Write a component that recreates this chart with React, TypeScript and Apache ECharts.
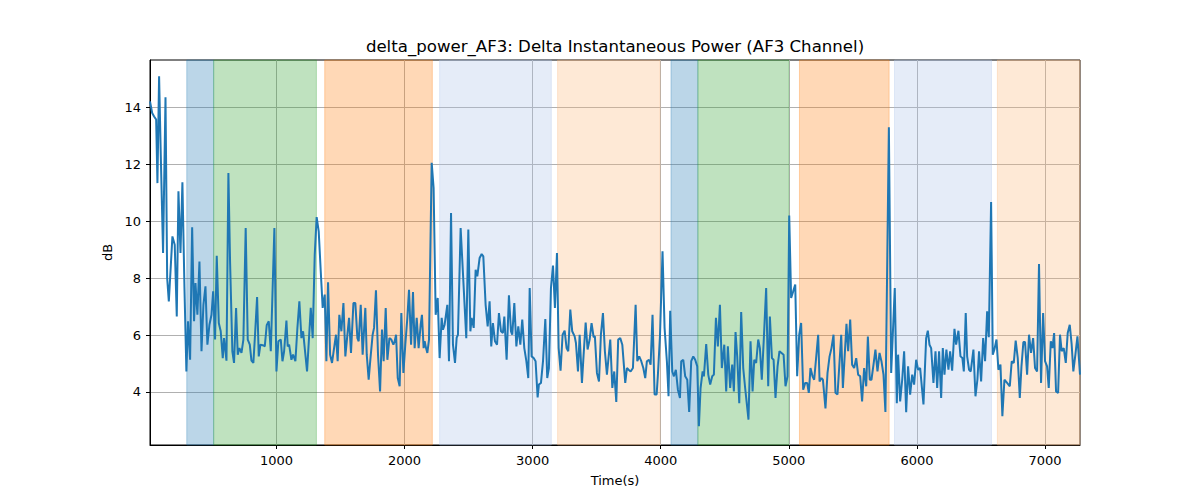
import React, { useEffect, useRef } from "react";
import * as echarts from "echarts";

const TITLE = "delta_power_AF3: Delta Instantaneous Power (AF3 Channel)";
const X_NAME = "Time(s)";
const Y_NAME = "dB";
const X_TICKS = [1000, 2000, 3000, 4000, 5000, 6000, 7000];
const Y_TICKS = [4, 6, 8, 10, 12, 14];
const X_MIN = 13;
const X_MAX = 7273;
const Y_MIN = 2.14;
const Y_MAX = 15.65;

const times = [
  13, 30, 45, 61, 71, 84, 97, 115, 134, 147, 160, 188, 206, 222, 235, 251, 266, 282, 297, 310,
  326, 342, 357, 368, 383, 399, 415, 430, 446, 461, 477, 493, 506, 521, 534, 550, 565, 581, 591, 610,
  625, 638, 656, 669, 685, 698, 711, 727, 742, 760, 776, 792, 805, 820, 833, 849, 862, 875, 901, 909,
  924, 940, 956, 984, 1000, 1015, 1034, 1047, 1060, 1078, 1088, 1099, 1117, 1130, 1148, 1164, 1179, 1195, 1208, 1239,
  1268, 1283, 1299, 1314, 1330, 1346, 1361, 1377, 1390, 1403, 1419, 1434, 1450, 1465, 1478, 1491, 1507, 1523, 1538, 1554,
  1567, 1582, 1601, 1616, 1632, 1642, 1658, 1673, 1694, 1705, 1720, 1733, 1751, 1762, 1777, 1793, 1809, 1824, 1837, 1853,
  1866, 1882, 1897, 1913, 1923, 1934, 1947, 1962, 1975, 1991, 2006, 2022, 2035, 2051, 2066, 2079, 2095, 2110, 2126, 2136,
  2149, 2157, 2168, 2178, 2191, 2212, 2227, 2243, 2259, 2274, 2290, 2300, 2313, 2334, 2347, 2363, 2378, 2394, 2407, 2417,
  2438, 2482, 2498, 2514, 2524, 2540, 2555, 2568, 2586, 2602, 2615, 2633, 2649, 2664, 2677, 2690, 2706, 2722, 2737, 2753,
  2768, 2779, 2797, 2815, 2831, 2841, 2857, 2873, 2888, 2904, 2919, 2935, 2951, 2966, 2977, 2992, 3008, 3023, 3039, 3049,
  3065, 3081, 3099, 3114, 3127, 3143, 3159, 3174, 3190, 3203, 3218, 3234, 3250, 3265, 3278, 3294, 3309, 3328, 3338, 3354,
  3367, 3385, 3398, 3414, 3429, 3445, 3460, 3476, 3486, 3502, 3518, 3533, 3549, 3564, 3580, 3606, 3622, 3637, 3653, 3668,
  3684, 3700, 3723, 3736, 3749, 3765, 3783, 3804, 3817, 3832, 3848, 3864, 3879, 3892, 3908, 3921, 3936, 3952, 3968, 3978,
  3994, 4014, 4030, 4048, 4061, 4074, 4090, 4103, 4118, 4134, 4150, 4160, 4176, 4191, 4207, 4222, 4238, 4254, 4269, 4285,
  4298, 4311, 4327, 4337, 4355, 4371, 4386, 4402, 4415, 4431, 4446, 4462, 4477, 4496, 4511, 4524, 4542, 4558, 4571, 4584,
  4597, 4613, 4628, 4644, 4659, 4685, 4701, 4717, 4730, 4745, 4761, 4774, 4789, 4805, 4823, 4839, 4852, 4868,
  4881, 4896, 4912, 4927, 4943, 4959, 4974, 4990, 5003, 5018, 5034, 5050, 5065, 5081, 5096, 5112, 5128, 5143, 5156, 5169,
  5185, 5198, 5229, 5240, 5255, 5266, 5286, 5302, 5318, 5333, 5349, 5364, 5380, 5409, 5422, 5450, 5463, 5479, 5494, 5510,
  5526, 5541, 5557, 5572, 5588, 5604, 5617, 5632, 5645, 5661, 5676, 5692, 5708, 5723, 5739, 5754, 5781, 5799, 5827, 5843,
  5853, 5869, 5885, 5900, 5916, 5931, 5947, 5963, 5978, 5994, 6009, 6025, 6051, 6072,
  6085, 6098, 6111, 6129, 6145, 6158, 6173, 6189, 6202, 6215, 6230, 6246, 6259, 6275, 6293, 6306, 6324, 6340, 6355, 6366,
  6381, 6392, 6407, 6420, 6441, 6457, 6472, 6485, 6501, 6517, 6532, 6548, 6561, 6579, 6592, 6605, 6621, 6636, 6652, 6667,
  6683, 6704, 6725, 6740, 6756, 6771, 6787, 6803, 6816, 6831, 6844, 6860, 6875, 6891, 6907, 6922, 6938, 6953, 6969, 6985,
  7000, 7016, 7029, 7045, 7058, 7071, 7086, 7102, 7117, 7130, 7146, 7162, 7177, 7193, 7208, 7221, 7237, 7253, 7273,
];

const powerDb = [
  14.2, 13.79, 13.67, 13.56, 11.33, 15.08, 12.33, 8.88, 14.34, 8.0, 7.18, 9.46, 9.17, 6.65, 11.04, 8.88, 11.36, 7.65, 4.72, 6.48,
  5.13, 9.78, 6.48, 7.82, 6.71, 8.58, 5.43, 7.06, 7.71, 5.66, 6.36, 6.71, 7.53, 5.84, 8.78, 6.42, 6.13, 5.19, 5.89, 5.1,
  11.68, 8.58, 5.43, 5.02, 6.95, 5.31, 5.54, 5.37, 5.84, 9.75, 5.84, 5.66, 5.1, 5.02, 6.01, 7.33, 5.25, 5.66, 5.63, 5.6,
  6.34, 6.48, 5.43, 9.75, 4.72, 5.78, 5.84, 5.08, 5.43, 6.51, 5.6, 5.66, 5.13, 5.31, 5.08, 6.27, 7.18, 5.89, 6.13, 4.72,
  6.95, 5.89, 8.82, 10.14, 9.64, 8.23, 6.95, 7.42, 5.08, 7.85, 5.31, 5.02, 5.54, 6.01, 5.08, 6.71, 6.13, 7.12, 5.25, 6.01,
  6.6, 5.37, 7.12, 7.12, 5.89, 5.78, 7.06, 5.31, 6.95, 5.31, 4.43, 5.13, 6.01, 6.25, 7.57, 5.31, 4.02, 6.19, 5.08, 6.95,
  5.13, 5.89, 5.84, 5.66, 5.78, 6.01, 4.49, 4.2, 6.77, 4.67, 5.66, 6.6, 7.59, 5.66, 7.51, 5.54, 6.6, 5.54, 6.36, 6.71,
  5.54, 5.78, 5.54, 5.37, 5.84, 12.04, 11.16, 6.71, 7.3, 5.19, 6.6, 6.19, 6.36, 7.06, 5.08, 10.28, 5.66, 5.02, 5.91, 6.01,
  9.75, 5.89, 9.7, 6.13, 6.6, 6.25, 8.29, 8.06, 8.7, 8.84, 8.76, 7.06, 6.3, 7.18, 5.6, 6.42, 5.78, 5.66, 6.77, 6.13,
  6.07, 6.65, 5.13, 7.39, 6.13, 6.01, 7.12, 5.6, 6.3, 5.66, 6.54, 5.54, 5.08, 4.49, 7.65, 5.25, 5.19, 5.08, 3.81, 4.26,
  4.32, 5.08, 6.56, 4.49, 4.84, 7.65, 8.44, 6.95, 8.88, 5.54, 4.75, 6.01, 6.15, 5.54, 5.43, 6.89, 6.13, 5.95, 5.72, 4.72,
  6.01, 4.32, 5.31, 6.44, 5.49, 5.84, 6.42, 5.93, 5.95, 4.67, 4.37, 6.01, 6.77, 5.43, 4.61, 5.84, 4.14, 4.72, 3.65, 5.84,
  5.89, 5.66, 4.32, 4.84, 4.78, 4.72, 4.84, 7.06, 5.08, 5.25, 5.08, 4.84, 4.49, 5.08, 5.13, 4.96, 6.71, 3.91, 3.91, 4.61,
  5.95, 8.94, 6.25, 5.08, 3.85, 6.85, 4.72, 4.55, 4.78, 4.08, 3.79, 5.08, 5.13, 4.55, 4.43, 3.3, 5.08, 5.25, 5.13, 4.9,
  2.8, 4.14, 4.72, 4.55, 5.68, 4.61, 4.26, 4.55, 4.61, 6.6, 5.6, 7.06, 4.84, 5.66, 4.02, 5.6, 4.14, 4.96, 4.02, 6.1,
  5.25, 3.61, 6.81, 4.84, 4.14, 3.03, 5.78, 4.02, 5.13, 5.02, 5.84, 5.54, 4.43, 5.89, 7.65, 4.2, 6.65, 5.19,
  5.13, 3.79, 4.9, 5.43, 5.37, 5.31, 4.2, 4.55, 10.19, 7.3, 7.53, 7.77, 4.55, 6.01, 6.42, 4.08, 4.32, 4.32, 3.97, 4.84,
  4.55, 4.43, 6.01, 4.37, 4.49, 4.43, 3.42, 4.67, 5.25, 5.54, 6.01, 3.97, 3.91, 6.01, 4.14, 6.39, 5.43, 6.54, 4.96, 4.84,
  5.19, 4.61, 4.55, 3.67, 4.84, 4.2, 5.95, 4.43, 4.43, 4.96, 5.49, 4.72, 5.37, 5.08, 4.61, 3.3, 13.29, 4.67, 7.65, 3.61,
  5.31, 3.67, 4.43, 5.43, 3.29, 4.9, 3.91, 4.61, 4.26, 5.13, 4.78, 4.84, 3.56, 5.89,
  6.15, 5.66, 5.54, 4.32, 5.43, 4.14, 5.43, 3.79, 5.54, 4.61, 5.49, 4.78, 5.43, 4.75, 6.22, 5.66, 6.15, 5.25, 5.19, 4.72,
  6.77, 5.25, 4.78, 4.72, 5.49, 3.85, 4.43, 5.43, 4.37, 5.89, 5.08, 6.83, 5.92, 10.67, 5.31, 5.49, 5.84, 4.78, 4.96, 3.15,
  4.43, 4.32, 4.2, 5.08, 5.02, 5.8, 5.19, 3.79, 4.9, 5.75, 5.75, 4.61, 6.01, 5.37, 5.89, 4.84, 4.72, 8.49, 4.32, 6.77,
  5.08, 4.9, 4.14, 5.78, 5.54, 6.07, 4.02, 3.97, 6.01, 5.43, 5.54, 5.02, 6.07, 6.36, 5.66, 4.72, 5.31, 5.95, 4.61,
];

const bandStarts = [300, 510, 1377, 2274, 3195, 4080, 4290, 5083, 5825, 6628];
const bandEnds = [510, 1312, 2217, 3146, 3995, 4290, 5000, 5783, 6582, 7273];
const bandKinds = ["blue", "green", "orange", "lightblue", "lightorange", "blue", "green", "orange", "lightblue", "lightorange"];

const BAND_COLORS: Record<string, string> = {
  blue: "rgba(31,119,180,0.3)",
  green: "rgba(44,160,44,0.3)",
  orange: "rgba(255,127,14,0.3)",
  lightblue: "rgba(168,192,232,0.3)",
  lightorange: "rgba(252,182,118,0.3)",
};

const FONT = "DejaVu Sans";

export default function App() {
  const ref = useRef<HTMLDivElement>(null);
  useEffect(() => {
    if (!ref.current) return;
    const chart = echarts.init(ref.current, undefined, { renderer: "svg" });
    const points = times.map((t, i) => [t, powerDb[i]]);
    const areas = bandStarts.map((s, i) => [
      {
        xAxis: s,
        itemStyle: {
          color: BAND_COLORS[bandKinds[i]],
          borderColor: BAND_COLORS[bandKinds[i]],
          borderWidth: 1,
        },
      },
      { xAxis: bandEnds[i] },
    ]);
    chart.setOption({
      animation: false,
      backgroundColor: "#ffffff",
      textStyle: { fontFamily: FONT },
      grid: {
        left: 150,
        right: 120,
        top: 60,
        bottom: 55,
        show: true,
        borderColor: "#000",
        borderWidth: 1,
        backgroundColor: "transparent",
      },
      graphic: [
        {
          type: "text",
          x: 615,
          y: 46,
          style: {
            text: TITLE,
            fontFamily: FONT,
            fontSize: 16.6,
            fill: "#000",
            textAlign: "center",
            textVerticalAlign: "middle",
          },
        },
      ],
      xAxis: {
        type: "value",
        min: X_MIN,
        max: X_MAX,
        name: X_NAME,
        nameLocation: "middle",
        nameGap: 29,
        nameTextStyle: { fontFamily: FONT, fontSize: 13, color: "#000", verticalAlign: "top" },
        axisLine: { show: true, onZero: false, lineStyle: { color: "#000", width: 1 } },
        axisTick: { show: true, length: 4, lineStyle: { color: "#000", width: 1 }, customValues: X_TICKS },
        axisLabel: {
          color: "#000",
          fontSize: 13,
          fontFamily: FONT,
          margin: 9,
          customValues: X_TICKS,
          formatter: (v: number) => String(Math.round(v)),
        },
        splitLine: { show: true, lineStyle: { color: "#b0b0b0", width: 1 } },
      },
      yAxis: {
        type: "value",
        min: Y_MIN,
        max: Y_MAX,
        name: Y_NAME,
        nameLocation: "middle",
        nameGap: 34,
        nameRotate: 90,
        nameTextStyle: { fontFamily: FONT, fontSize: 13, color: "#000" },
        axisLine: { show: true, onZero: false, lineStyle: { color: "#000", width: 1 } },
        axisTick: { show: true, length: 4, lineStyle: { color: "#000", width: 1 }, customValues: Y_TICKS },
        axisLabel: {
          color: "#000",
          fontSize: 13,
          fontFamily: FONT,
          margin: 9,
          customValues: Y_TICKS,
          formatter: (v: number) => String(Math.round(v)),
        },
        splitLine: { show: true, lineStyle: { color: "#b0b0b0", width: 1 } },
      },
      series: [
        {
          type: "line",
          data: points,
          showSymbol: false,
          symbol: "none",
          lineStyle: { color: "#1f77b4", width: 2 },
          z: 3,
          markArea: { silent: true, data: areas, z: 1 },
        },
      ],
    });
    return () => chart.dispose();
  }, []);
  return (
    <div
      ref={ref}
      style={{ position: "fixed", left: 0, top: 0, width: 1200, height: 500, background: "#fff" }}
    />
  );
}
